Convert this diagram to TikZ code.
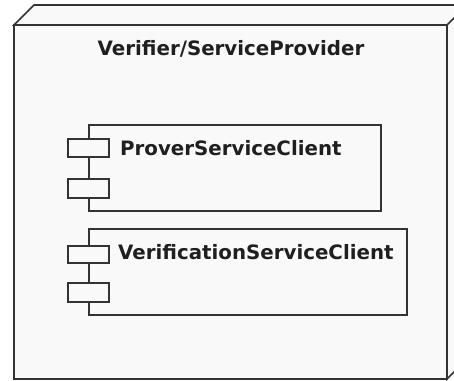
\documentclass[tikz,border=0pt]{standalone}
\usepackage{fontspec}
\setmainfont{DejaVu Sans}
\begin{document}
\begin{tikzpicture}[x=1pt,y=-1pt,
  line/.style={draw=black!80, line width=1.6pt, line join=miter},
  face/.style={line, fill=black!2.5},
  label/.style={font=\bfseries\fontsize{19.8}{23}\selectfont, text=black!88, inner sep=0pt},
  port/.style={line, fill=black!2.5}
]
\useasboundingbox (0,0) rectangle (454,380);
% deployment node (3D box, partly cut off at right and bottom)
\path[face] (14,25) -- (34,5) -- (474,5) -- (474,352) -- (447,379) -- (447,25) -- cycle;
\path[face] (14,25) rectangle (447,379);
\draw[line] (447,25) -- (474,-2);
\node[label, anchor=base] (title) at (231,55) {Verifier/ServiceProvider};

% component ProverServiceClient
\path[face] (89,125) rectangle (381,211);
\path[port] (68,139) rectangle (109,157);
\path[port] (68,179) rectangle (109,198);
\node[label, anchor=base west] (prover) at (120,155) {ProverServiceClient};

% component VerificationServiceClient
\path[face] (89,229) rectangle (407,315);
\path[port] (68,246) rectangle (109,263);
\path[port] (68,283) rectangle (109,302);
\node[label, anchor=base west] (verif) at (118,259) {VerificationServiceClient};
\end{tikzpicture}
\end{document}
